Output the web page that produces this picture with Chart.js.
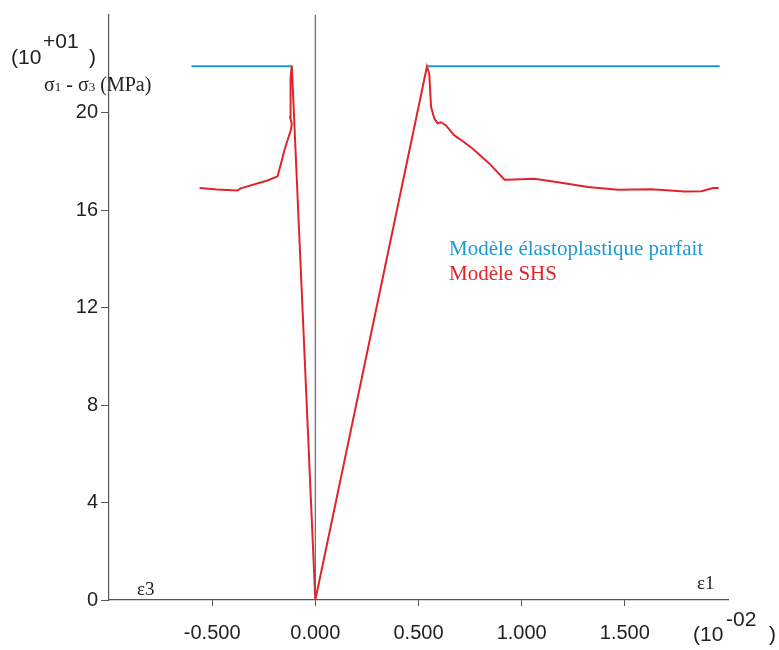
<!DOCTYPE html>
<html>
<head>
<meta charset="utf-8">
<script src="https://cdn.jsdelivr.net/npm/chart.js@4.4.1/dist/chart.umd.min.js"></script>
<style>
  body { margin: 0; background: #fff; }
  #wrap { width: 779px; height: 650px; }
</style>
</head>
<body>
<div id="wrap"><canvas id="myChart" width="779" height="650"></canvas></div>
<script>
// deformation (x 10^-2) and deviatoric stress (x 10^1 MPa)
const seuil = 21.9;
const elastoX = [-0.60, -0.114, 0, 0.541, 1.96];
const elastoY = [seuil, seuil, 0, seuil, seuil];

const shsX = [-0.561, -0.475, -0.378, -0.362, -0.232, -0.183, -0.165, -0.150, -0.135, -0.118, -0.114, -0.122, -0.122, -0.118, -0.114,
              0,
              0.541, 0.552, 0.561, 0.577, 0.593, 0.609, 0.633, 0.674, 0.715, 0.763, 0.844, 0.917, 0.965, 1.062,
              1.176, 1.321, 1.467, 1.629, 1.790, 1.871, 1.928, 1.955];
const shsY = [16.90, 16.84, 16.80, 16.89, 17.21, 17.38, 17.95, 18.45, 18.85, 19.30, 19.55, 19.80, 20.6, 21.4, 21.93,
              0,
              21.89, 21.59, 20.22, 19.74, 19.56, 19.60, 19.47, 19.06, 18.82, 18.51, 17.90, 17.24, 17.25, 17.28,
              17.14, 16.94, 16.83, 16.85, 16.76, 16.77, 16.90, 16.90];

const xTicks = [-0.5, 0, 0.5, 1.0, 1.5];
const yTicks = [0, 4, 8, 12, 16, 20];

const bleu = '#1b9ad6';
const rouge = '#e0252a';
const axeCouleur = '#555555';

function pts(xs, ys) {
    return xs.map(function (x, i) { return { x: x, y: ys[i] }; });
}

// unit labels, axis title, strain markers and legend text
const textes = {
    id: 'textes',
    afterDraw: function (chart) {
        const ctx = chart.ctx;
        ctx.save();
        ctx.fillStyle = '#222';
        ctx.textBaseline = 'alphabetic';
        ctx.textAlign = 'left';

        // (10+01 )
        ctx.font = '21px "Liberation Sans", Arial, sans-serif';
        ctx.fillText('(10', 11, 64);
        ctx.fillText(')', 89, 64);
        ctx.fillText('+01', 43, 48);
        // (10-02 )
        ctx.fillText('(10', 693, 641);
        ctx.fillText(')', 769, 641);
        ctx.fillText('-02', 726, 626);

        // σ1 - σ3 (MPa)
        let x = 44;
        const yb = 91;
        const parts = [['σ', 20], ['1', 13], [' - σ', 20], ['3', 13], [' (MPa)', 20]];
        parts.forEach(function (p) {
            ctx.font = p[1] + 'px "Liberation Serif", "Times New Roman", serif';
            ctx.fillText(p[0], x, yb);
            x += ctx.measureText(p[0]).width;
        });

        ctx.font = '19px "Liberation Serif", "Times New Roman", serif';
        ctx.fillText('ε3', 137, 595);
        ctx.fillText('ε1', 697, 589);

        // legend
        ctx.font = '21px "Liberation Serif", "Times New Roman", serif';
        ctx.fillStyle = bleu;
        ctx.fillText('Modèle élastoplastique parfait', 449, 255);
        ctx.fillStyle = rouge;
        ctx.fillText('Modèle SHS', 449, 280);
        ctx.restore();
    }
};

const config = {
    type: 'scatter',
    data: {
        datasets: [
            {
                label: 'axe',
                data: pts([0, 0], [0, 24]),
                showLine: true,
                borderColor: '#666',
                borderWidth: 1.2,
                pointRadius: 0
            },
            {
                label: 'Modèle élastoplastique parfait',
                data: pts([elastoX[0], elastoX[1]], [elastoY[0], elastoY[1]]),
                showLine: true,
                borderColor: bleu,
                borderWidth: 2,
                pointRadius: 0
            },
            {
                label: 'Modèle élastoplastique parfait',
                data: pts([elastoX[3], elastoX[4]], [elastoY[3], elastoY[4]]),
                showLine: true,
                borderColor: bleu,
                borderWidth: 2,
                pointRadius: 0
            },
            {
                label: 'Modèle SHS',
                data: pts(shsX, shsY),
                showLine: true,
                borderColor: rouge,
                borderWidth: 2,
                pointRadius: 0,
                tension: 0
            }
        ]
    },
    options: {
        responsive: false,
        animation: false,
        layout: { padding: { top: 13, right: 51, left: 0, bottom: 0 } },
        plugins: {
            legend: { display: false },
            tooltip: { enabled: false }
        },
        scales: {
            x: {
                type: 'linear',
                min: -1,
                max: 2,
                afterBuildTicks: function (axis) {
                    axis.ticks = xTicks.map(function (v) { return { value: v }; });
                },
                afterFit: function (axis) { axis.height = 50; },
                grid: { drawOnChartArea: false, drawTicks: true, tickLength: 6, color: axeCouleur },
                border: { display: true, color: axeCouleur, width: 1.2 },
                ticks: {
                    padding: 15,
                    color: '#222',
                    maxRotation: 0,
                    font: { family: '"Liberation Sans", Arial, sans-serif', size: 20 },
                    callback: function (v) { return v.toFixed(3); }
                }
            },
            y: {
                type: 'linear',
                min: 0,
                max: 24,
                afterBuildTicks: function (axis) {
                    axis.ticks = yTicks.map(function (v) { return { value: v }; });
                },
                afterFit: function (axis) { axis.width = 109; },
                grid: { drawOnChartArea: false, drawTicks: true, tickLength: 8, color: axeCouleur },
                border: { display: true, color: axeCouleur, width: 1.2 },
                ticks: {
                    padding: 3,
                    color: '#222',
                    font: { family: '"Liberation Sans", Arial, sans-serif', size: 20 }
                }
            }
        }
    },
    plugins: [textes]
};

const chart = new Chart('myChart', config);
</script>
</body>
</html>
